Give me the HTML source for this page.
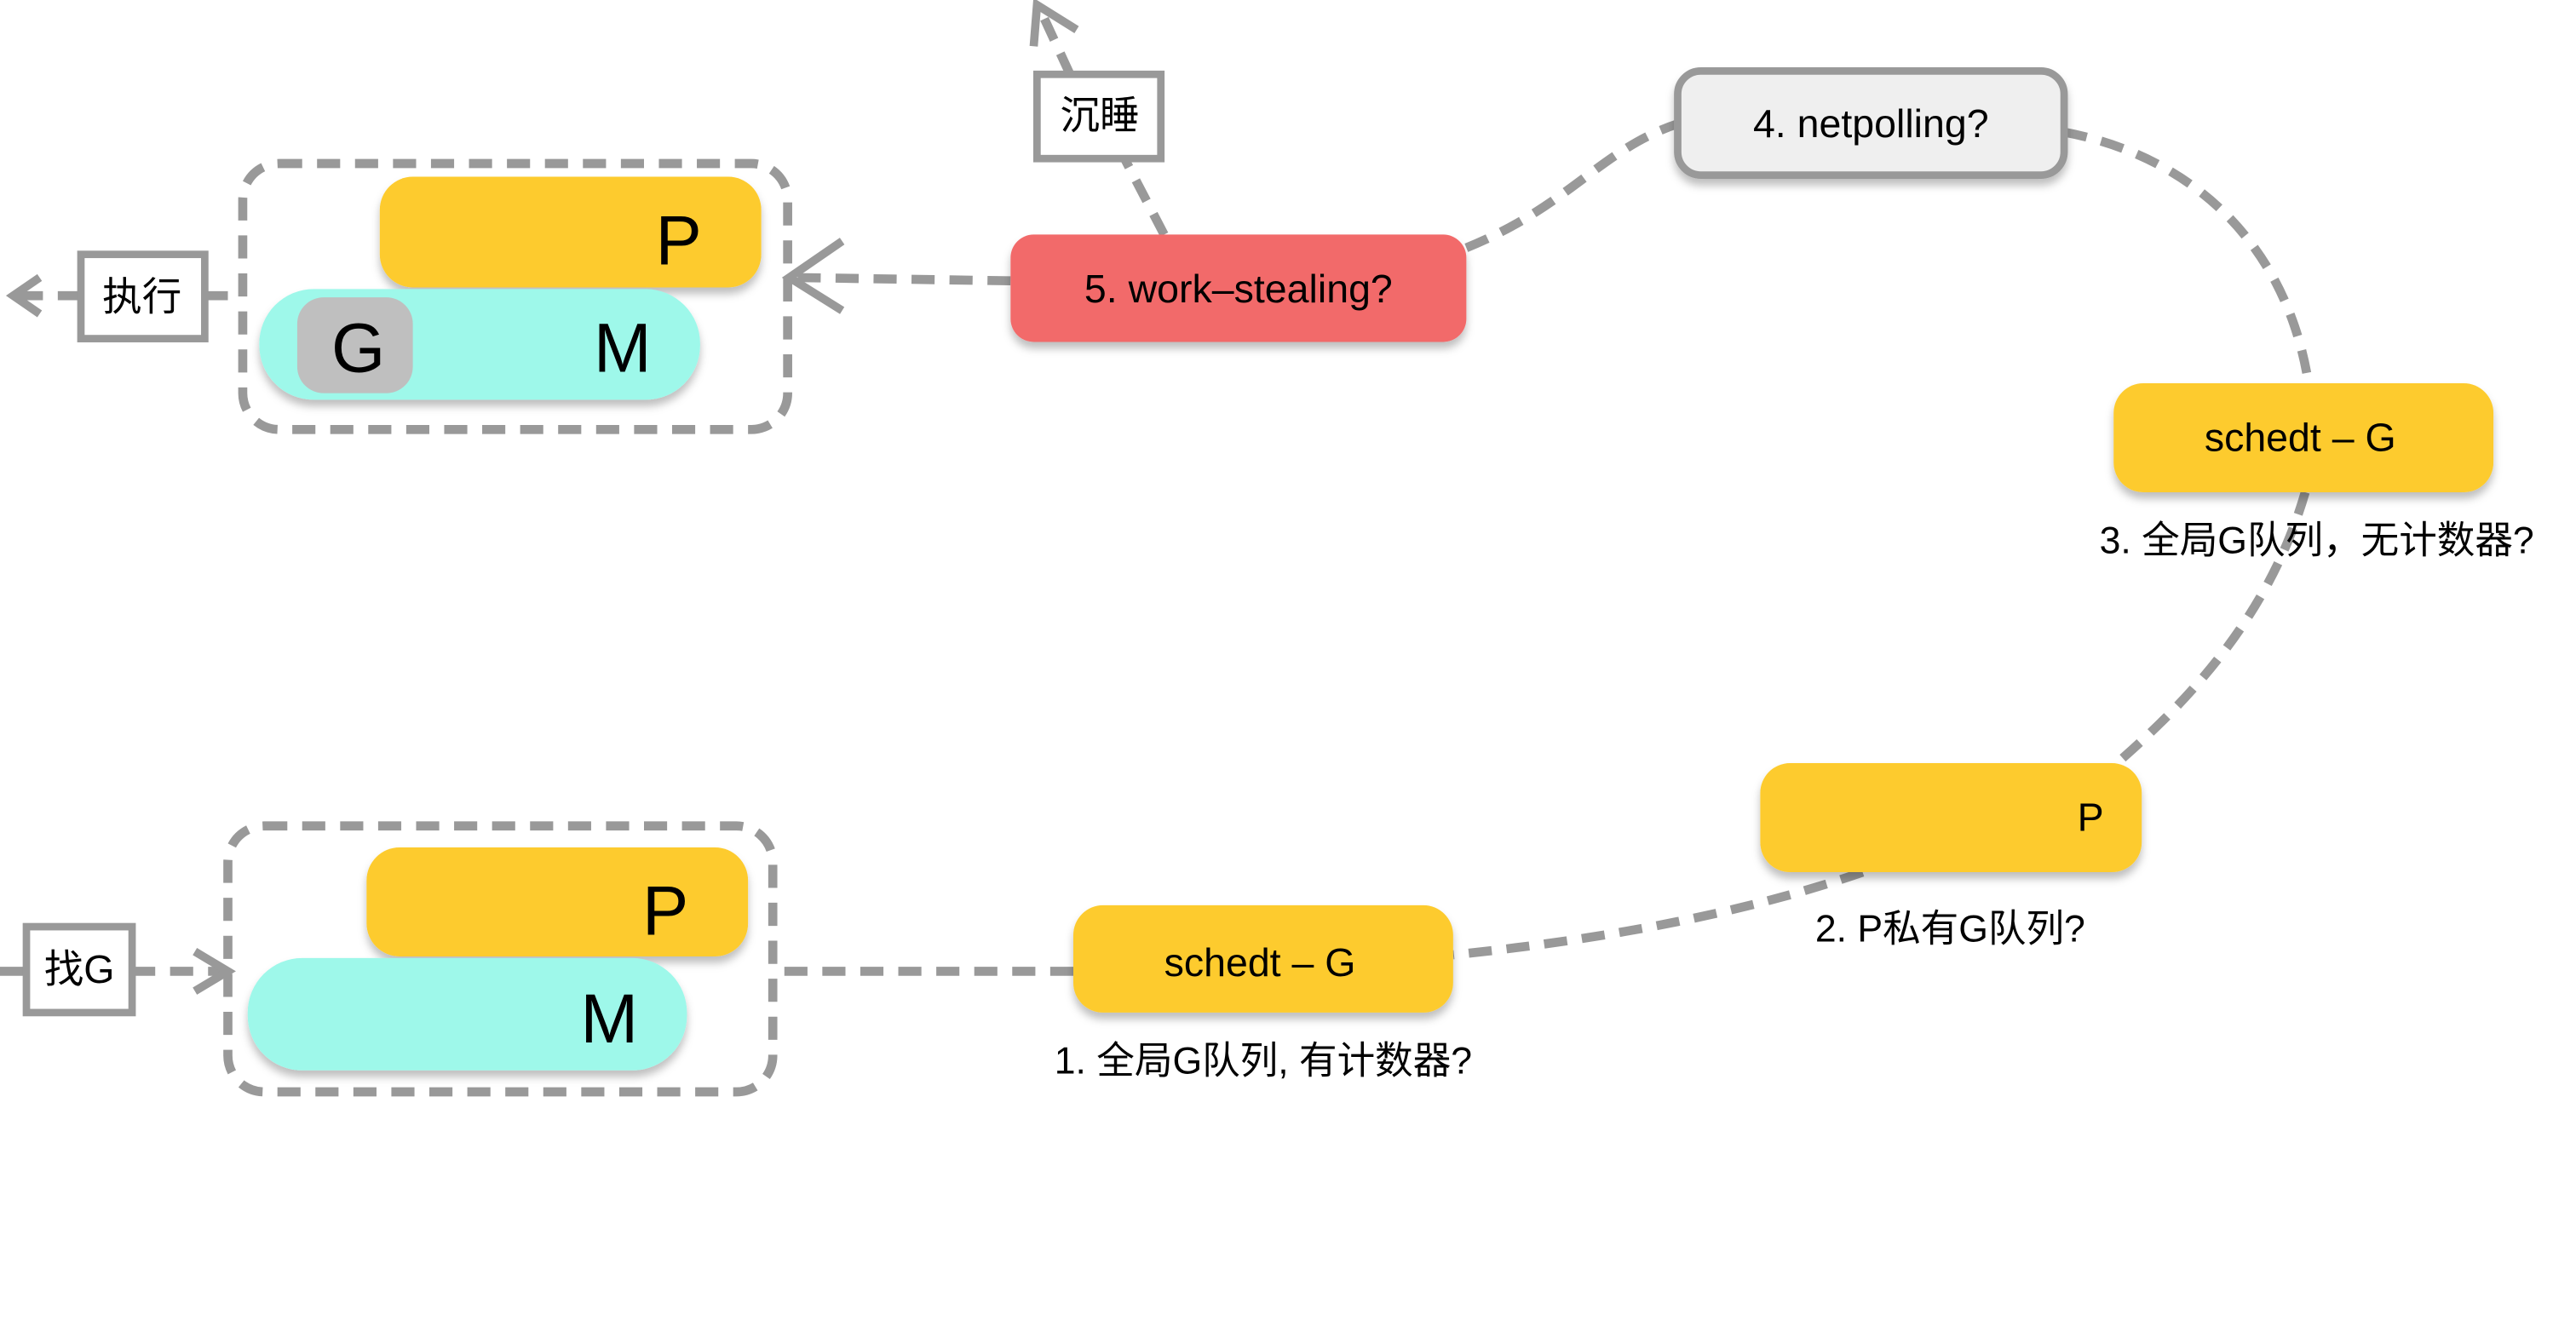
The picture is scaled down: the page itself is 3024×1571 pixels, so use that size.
<!DOCTYPE html>
<html><head><meta charset="utf-8"><style>
html,body{margin:0;padding:0;background:#fff;}
svg{display:block;}
text{font-family:"Liberation Sans","Noto Sans CJK SC",sans-serif;fill:#000;}
</style></head><body>
<svg width="3024" height="1571" viewBox="0 0 1560 810" preserveAspectRatio="none" xmlns="http://www.w3.org/2000/svg">
<defs>
<filter id="sh" x="-10%" y="-10%" width="120%" height="140%">
<feDropShadow dx="0" dy="4" stdDeviation="2.5" flood-color="#000" flood-opacity="0.25"/>
</filter>
</defs>
<g fill="none" stroke="#999" stroke-width="5.5" stroke-dasharray="14 9">
<rect x="147" y="99" width="330" height="161" rx="22"/>
<rect x="138" y="500" width="330" height="161" rx="22"/>
<line x1="49" y1="179" x2="10" y2="179"/>
<line x1="124" y1="179" x2="147" y2="179"/>
<line x1="612" y1="170" x2="480" y2="168"/>
<line x1="705" y1="142" x2="681" y2="96"/>
<line x1="648" y1="45" x2="630" y2="6"/>
<path d="M888 150 C 950 125, 970 90, 1016 75"/>
<path d="M1250 80 C 1330 95, 1385 150, 1398 232"/>
<path d="M1396 298 C 1375 370, 1330 420, 1282 462"/>
<path d="M1128 528 C 1050 555, 960 570, 880 578"/>
<line x1="650" y1="588" x2="468" y2="588"/>
<line x1="0" y1="588" x2="16" y2="588"/>
<line x1="80" y1="588" x2="136" y2="588"/>
</g>
<g fill="none" stroke="#999" stroke-width="5">
<polyline points="24,168 8,179 24,190"/>
<polyline points="510,146 478,168 510,188"/>
<polyline points="626,28 628,3 652,18"/>
<polyline points="118,576 138,588 118,600"/>
</g>
<g fill="#fff" stroke="#999" stroke-width="4.5">
<rect x="49" y="154" width="75" height="51"/>
<rect x="628" y="45" width="75" height="51"/>
<rect x="16" y="561" width="64" height="52"/>
</g>
<text x="86" y="188" font-size="24" text-anchor="middle">执行</text>
<text x="666" y="78" font-size="24" text-anchor="middle">沉睡</text>
<text x="48" y="595" font-size="24" text-anchor="middle">找G</text>
<rect x="230" y="107" width="231" height="67" rx="20" fill="#FDCB2E" filter="url(#sh)"/>
<text x="411" y="160" font-size="42" text-anchor="middle">P</text>
<rect x="157" y="175" width="267" height="67" rx="33" fill="#9EF8EA" filter="url(#sh)"/>
<rect x="180" y="180" width="70" height="58" rx="16" fill="#BFBFBF"/>
<text x="217" y="225" font-size="42" text-anchor="middle">G</text>
<text x="377" y="225" font-size="42" text-anchor="middle">M</text>
<rect x="222" y="513" width="231" height="66" rx="20" fill="#FDCB2E" filter="url(#sh)"/>
<text x="403" y="566" font-size="42" text-anchor="middle">P</text>
<rect x="150" y="580" width="266" height="68" rx="33" fill="#9EF8EA" filter="url(#sh)"/>
<text x="369" y="631" font-size="42" text-anchor="middle">M</text>
<rect x="612" y="142" width="276" height="65" rx="14" fill="#F26B6B" filter="url(#sh)"/>
<text x="750" y="183" font-size="24" text-anchor="middle">5. work–stealing?</text>
<rect x="1016" y="43" width="234" height="63" rx="14" fill="#EFEFEF" stroke="#999" stroke-width="4.5" filter="url(#sh)"/>
<text x="1133" y="83" font-size="24" text-anchor="middle">4. netpolling?</text>
<rect x="1280" y="232" width="230" height="66" rx="18" fill="#FDCB2E" filter="url(#sh)"/>
<text x="1393" y="273" font-size="24" text-anchor="middle">schedt – G</text>
<text x="1403" y="335" font-size="23" text-anchor="middle">3. 全局G队列，无计数器?</text>
<rect x="1066" y="462" width="231" height="66" rx="18" fill="#FDCB2E" filter="url(#sh)"/>
<text x="1266" y="503" font-size="24" text-anchor="middle">P</text>
<text x="1181" y="570" font-size="23" text-anchor="middle">2. P私有G队列?</text>
<rect x="650" y="548" width="230" height="65" rx="18" fill="#FDCB2E" filter="url(#sh)"/>
<text x="763" y="591" font-size="24" text-anchor="middle">schedt – G</text>
<text x="765" y="650" font-size="23" text-anchor="middle">1. 全局G队列, 有计数器?</text>
</svg>
</body></html>
